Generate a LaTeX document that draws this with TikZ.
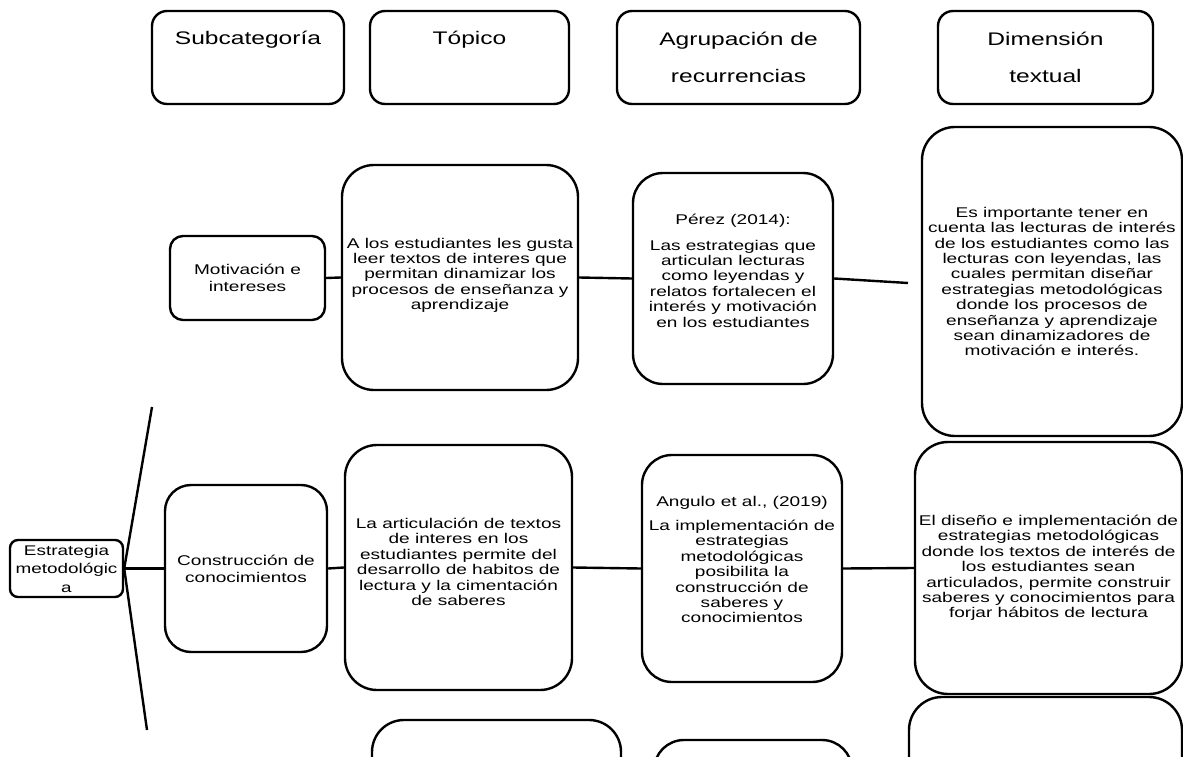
\documentclass[tikz,border=0pt]{standalone}
\usepackage{fontspec}
\setmainfont[FakeStretch=1.35]{Liberation Sans}
\newcommand\bodyfnt{\fontsize{14.1}{15.4}\selectfont}
\newcommand\headfnt{\fontsize{18.2}{37}\selectfont}
\begin{document}
\begin{tikzpicture}[x=1pt,y=-1pt,
  box/.style={draw, line width=2.4pt, inner sep=0pt, align=center, font=\bodyfnt},
  hbox/.style={box, rounded corners=15pt, minimum height=93pt, font=\headfnt},
  link/.style={line width=2.4pt}]
\useasboundingbox (0,0) rectangle (1183,757);
\clip (0,0) rectangle (1183,757);
% headers
\node[hbox, minimum width=192pt] (hsub) at (248,57.5) {Subcategoría\\[2pt]\mbox{}};
\node[hbox, minimum width=199pt] (htop) at (469.5,57.5) {Tópico\\[2pt]\mbox{}};
\node[hbox, minimum width=243pt] (hagr) at (738.5,57.5) {Agrupación de\\recurrencias};
\node[hbox, minimum width=215pt] (hdim) at (1045.5,57.5) {Dimensión\\textual};
% left
\node[box, rounded corners=8pt, minimum width=113pt, minimum height=57pt, font=\fontsize{14}{18.5}\selectfont] (estr) at (66.5,568.5) {Estrategia\\metodológic\\a};
\coordinate (fanT) at (152,407);
\coordinate (fanB) at (147,730);
% row 1
\node[box, rounded corners=13pt, minimum width=155pt, minimum height=84pt, font=\fontsize{14.1}{17}\selectfont] (motiv) at (247.5,278) {Motivación e\\intereses};
\node[box, rounded corners=32pt, minimum width=236pt, minimum height=225pt] (top1) at (460,277.5) {A los estudiantes les gusta\\leer textos de interes que\\permitan dinamizar los\\procesos de enseñanza y\\aprendizaje\\[-8pt]\mbox{}};
\node[box, rounded corners=30pt, minimum width=200pt, minimum height=211pt] (perez) at (733,278.5) {Pérez (2014):\\[10pt]Las estrategias que\\articulan lecturas\\como leyendas y\\relatos fortalecen el\\interés y motivación\\en los estudiantes\\[0pt]\mbox{}};
\node[box, rounded corners=33pt, minimum width=260pt, minimum height=309pt] (dim1) at (1052,281.5) {Es importante tener en\\cuenta las lecturas de interés\\de los estudiantes como las\\lecturas con leyendas, las\\cuales permitan diseñar\\estrategias metodológicas\\donde los procesos de\\enseñanza y aprendizaje\\sean dinamizadores de\\motivación e interés.};
\coordinate (pz) at (908,283);
% row 2
\node[box, rounded corners=26pt, minimum width=162pt, minimum height=167pt, font=\fontsize{14.1}{17}\selectfont] (constr) at (246,568.5) {Construcción de\\conocimientos};
\node[box, rounded corners=32pt, minimum width=227pt, minimum height=245pt] (top2) at (458.5,567.5) {La articulación de textos\\de interes en los\\estudiantes permite del\\desarrollo de habitos de\\lectura y la cimentación\\de saberes\\[-4pt]\mbox{}};
\node[box, rounded corners=30pt, minimum width=200pt, minimum height=227pt] (ang) at (742,568.5) {Angulo et al., (2019)\\[9pt]La implementación de\\estrategias\\metodológicas\\posibilita la\\construcción de\\saberes y\\conocimientos\\[3pt]\mbox{}};
\node[box, rounded corners=33pt, minimum width=267pt, minimum height=252pt] (dim2) at (1048.5,568) {El diseño e implementación de\\estrategias metodológicas\\donde los textos de interés de\\los estudiantes sean\\articulados, permite construir\\saberes y conocimientos para\\forjar hábitos de lectura};
% row 3 (cut off)
\node[box, rounded corners=32pt, minimum width=249pt, minimum height=200pt] (top3) at (496.5,820) {};
\node[box, rounded corners=30pt, minimum width=198pt, minimum height=200pt] (agr3) at (753,840) {};
\node[box, rounded corners=33pt, minimum width=273pt, minimum height=200pt] (dim3) at (1045.5,797) {};
% connectors
\draw[link] (fanT) -- (estr.east) -- (fanB);
\draw[link] (estr.east) -- (constr.west);
\draw[link] (motiv.east) -- (top1.west);
\draw[link] (top1.east) -- (perez.west);
\draw[link] (perez.east) -- (pz);
\draw[link] (constr.east) -- (top2.west);
\draw[link] (top2.east) -- (ang.west);
\draw[link] (ang.east) -- (dim2.west);
\end{tikzpicture}
\end{document}
